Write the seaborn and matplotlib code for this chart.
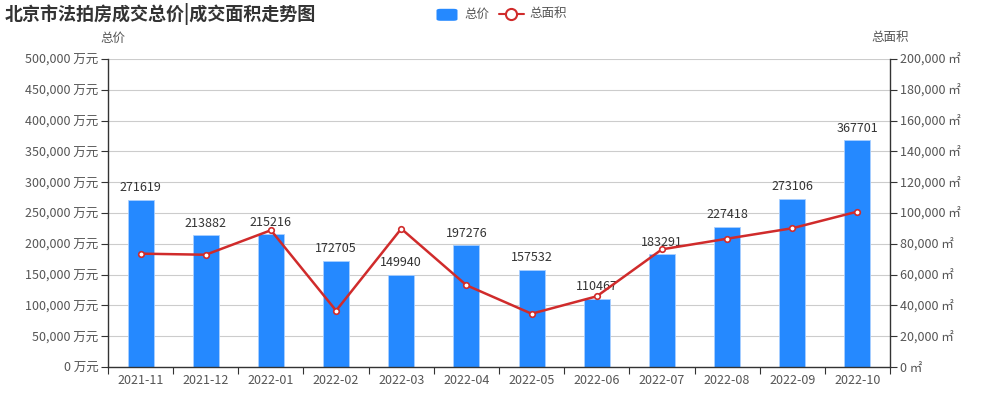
import numpy as np
import seaborn as sns
import matplotlib.pyplot as plt
from matplotlib.lines import Line2D
from matplotlib.patches import FancyBboxPatch
from matplotlib.ticker import FuncFormatter, MultipleLocator, FixedLocator

months = ['2021-11', '2021-12', '2022-01', '2022-02', '2022-03', '2022-04',
          '2022-05', '2022-06', '2022-07', '2022-08', '2022-09', '2022-10']
total_price = [271619, 213882, 215216, 172705, 149940, 197276,
               157532, 110467, 183291, 227418, 273106, 367701]
total_area = [73600, 72900, 88800, 36600, 89800, 53100,
              34600, 45900, 76400, 83300, 90100, 100900]

bar_color = '#2589ff'
line_color = '#d02b2b'

sns.set_theme(style='white')
plt.rcParams['font.family'] = ['Noto Sans CJK SC', 'DejaVu Sans']

fig = plt.figure(figsize=(10, 4), dpi=100)
ax = fig.add_axes([0.108, 0.0825, 0.782, 0.77])
ax2 = ax.twinx()

sns.barplot(x=months, y=total_price, ax=ax, color=bar_color, width=0.4,
            edgecolor='#a9cfff', linewidth=0.6, saturation=1, zorder=2)
for i, v in enumerate(total_price):
    ax.annotate(str(v), (i, v), xytext=(0, 4), textcoords='offset points',
                ha='center', va='bottom', fontsize=9, color='#333333')

sns.lineplot(x=np.arange(len(months)), y=total_area, ax=ax2, color=line_color,
             linewidth=1.8, marker='o', markersize=4, markerfacecolor='white',
             markeredgecolor=line_color, markeredgewidth=1.2)

ax.set_ylim(0, 500000)
ax2.set_ylim(0, 200000)
ax.set_xlim(-0.5, len(months) - 0.5)
ax.yaxis.set_major_locator(MultipleLocator(50000))
ax2.yaxis.set_major_locator(MultipleLocator(20000))
ax.yaxis.set_major_formatter(FuncFormatter(lambda v, p: f'{int(v):,} 万元'))
ax2.yaxis.set_major_formatter(FuncFormatter(lambda v, p: f'{int(v):,} ㎡'))
ax.grid(axis='y', color='#cccccc', linewidth=0.8, zorder=0)
ax.set_axisbelow(True)
ax2.grid(False)

ax.xaxis.set_minor_locator(FixedLocator(np.arange(-0.5, len(months), 1)))
ax.tick_params(axis='x', which='major', length=0, labelsize=9, labelcolor='#555555', pad=5)
ax.tick_params(axis='x', which='minor', length=5, width=0.8, color='#333333', bottom=True)
ax.tick_params(axis='y', length=5, width=0.8, color='#333333', labelsize=9,
               labelcolor='#555555', left=True, pad=2)
ax2.tick_params(axis='y', length=5, width=0.8, color='#333333', labelsize=9,
                labelcolor='#555555', right=True, pad=2)

for a in (ax, ax2):
    for s in a.spines.values():
        s.set_visible(False)
ax.spines['left'].set_visible(True)
ax.spines['bottom'].set_visible(True)
ax2.spines['right'].set_visible(True)
for s in (ax.spines['left'], ax.spines['bottom'], ax2.spines['right']):
    s.set_color('#333333')
    s.set_linewidth(1)
ax.set_xlabel('')
ax.set_ylabel('')
ax2.set_ylabel('')

fig.text(0.113, 0.905, '总价', ha='center', va='center', fontsize=9, color='#555555')
fig.text(0.89, 0.905, '总面积', ha='center', va='center', fontsize=9, color='#555555')
fig.text(0.005, 0.965, '北京市法拍房成交总价|成交面积走势图', ha='left', va='center',
         fontsize=13, fontweight='bold', color='#333333')

# legend
fig.patches.append(FancyBboxPatch((0.4365, 0.948), 0.021, 0.03, boxstyle='round,pad=0,rounding_size=0.004',
                                  transform=fig.transFigure, facecolor=bar_color, edgecolor='none'))
fig.text(0.4645, 0.965, '总价', ha='left', va='center', fontsize=9, color='#555555')
fig.lines.append(Line2D([0.499, 0.524], [0.965, 0.965], transform=fig.transFigure,
                        color=line_color, linewidth=1.5, marker='', zorder=3))
fig.lines.append(Line2D([0.5115], [0.965], transform=fig.transFigure, color=line_color,
                        marker='o', markersize=8, markerfacecolor='white',
                        markeredgewidth=1.5, zorder=4))
fig.text(0.529, 0.965, '总面积', ha='left', va='center', fontsize=9, color='#555555')

fig.savefig('out.png', dpi=100)
